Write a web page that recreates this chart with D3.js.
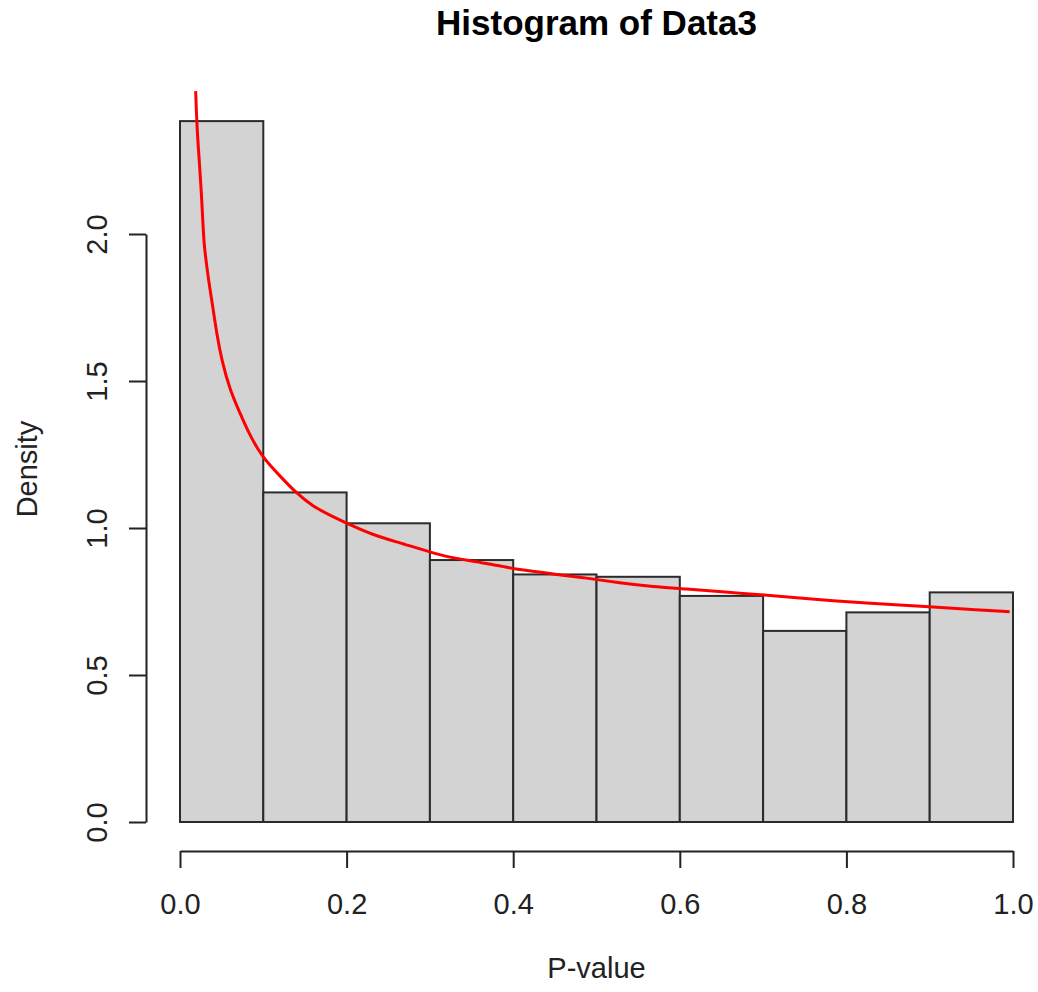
<!DOCTYPE html>
<html>
<head>
<meta charset="utf-8">
<script src="https://cdn.jsdelivr.net/npm/d3@7"></script>
<style>
  body { margin: 0; background: #fff; }
  svg { display: block; font-family: "Liberation Sans", Arial, sans-serif; }
</style>
</head>
<body>
<svg id="chart" width="1038" height="992"></svg>
<script>
// histogram bins (P-value breaks) and densities
const breaks = [0, 0.1, 0.2, 0.3, 0.4, 0.5, 0.6, 0.7, 0.8, 0.9, 1.0];
const densities = [2.384, 1.121, 1.016, 0.891, 0.842, 0.834, 0.769, 0.650, 0.713, 0.781];

// fitted density curve (red)
const curveX = [0.0188, 0.0204, 0.0228, 0.0252, 0.027, 0.0288, 0.0312, 0.0342, 0.040, 0.044,
  0.050, 0.060, 0.072, 0.0816, 0.098, 0.120, 0.138, 0.160, 0.180, 0.200, 0.232, 0.260,
  0.312, 0.328, 0.368, 0.408, 0.448, 0.488, 0.528, 0.568, 0.608, 0.648, 0.704, 0.744,
  0.784, 0.824, 0.864, 0.904, 0.944, 0.996];
const curveY = [2.486, 2.361, 2.262, 2.163, 2.065, 1.966, 1.912, 1.844, 1.741, 1.663,
  1.571, 1.469, 1.391, 1.328, 1.243, 1.177, 1.123, 1.072, 1.044, 1.016, 0.976, 0.953,
  0.908, 0.898, 0.880, 0.857, 0.844, 0.830, 0.813, 0.800, 0.793, 0.783, 0.772, 0.762,
  0.752, 0.745, 0.738, 0.731, 0.724, 0.715];

const xTicks = [0, 0.2, 0.4, 0.6, 0.8, 1.0];
const yTicks = [0, 0.5, 1.0, 1.5, 2.0];

const title = "Histogram of Data3";
const xLabel = "P-value";
const yLabel = "Density";

const svg = d3.select("#chart");

const x = d3.scaleLinear().domain([0, 1]).range([180, 1013]);
const y = d3.scaleLinear().domain([0, 2]).range([822, 234]);

const ink = "#222";

// bars
const bins = densities.map((d, i) => ({ x0: breaks[i], x1: breaks[i + 1], d: d }));
svg.append("g")
  .selectAll("rect")
  .data(bins)
  .enter().append("rect")
  .attr("x", (b) => x(b.x0))
  .attr("y", (b) => y(b.d))
  .attr("width", (b) => x(b.x1) - x(b.x0))
  .attr("height", (b) => y(0) - y(b.d))
  .style("fill", "#d3d3d3")
  .style("stroke", "#2b2b2b")
  .style("stroke-width", 2);

// density curve
const pts = curveX.map((v, i) => [v, curveY[i]]);
svg.append("path")
  .datum(pts)
  .attr("d", d3.line()
    .x((d) => x(d[0]))
    .y((d) => y(d[1]))
    .curve(d3.curveBasis))
  .style("fill", "none")
  .style("stroke", "#ff0000")
  .style("stroke-width", 3);

// x axis
const xAxis = svg.append("g")
  .attr("transform", "translate(0,851)")
  .call(d3.axisBottom(x).tickValues(xTicks).tickSize(17).tickSizeOuter(0)
    .tickFormat(d3.format(".1f")));
xAxis.select(".domain").attr("stroke", ink).attr("stroke-width", 2);
xAxis.selectAll(".tick line").attr("stroke", ink).attr("stroke-width", 2);
xAxis.selectAll(".tick text")
  .attr("y", 63).attr("dy", null)
  .attr("fill", ink)
  .style("font-size", "29px")
  .style("font-family", "'Liberation Sans', Arial, sans-serif");

// y axis
const yAxis = svg.append("g")
  .attr("transform", "translate(146,0)")
  .call(d3.axisLeft(y).tickValues(yTicks).tickSize(17).tickSizeOuter(0)
    .tickFormat(d3.format(".1f")));
yAxis.select(".domain").attr("stroke", ink).attr("stroke-width", 2);
yAxis.selectAll(".tick line").attr("stroke", ink).attr("stroke-width", 2);
yAxis.selectAll(".tick text")
  .attr("x", null).attr("dy", null)
  .attr("transform", "translate(-39,0) rotate(-90)")
  .attr("text-anchor", "middle")
  .attr("fill", ink)
  .style("font-size", "29px")
  .style("font-family", "'Liberation Sans', Arial, sans-serif");

// title and axis labels
svg.append("text")
  .attr("x", 596.5).attr("y", 35)
  .attr("text-anchor", "middle")
  .style("font-size", "35px")
  .style("font-weight", "bold")
  .style("fill", "#000")
  .text(title);

svg.append("text")
  .attr("x", 596.5).attr("y", 978)
  .attr("text-anchor", "middle")
  .style("font-size", "29px")
  .style("fill", ink)
  .text(xLabel);

svg.append("text")
  .attr("transform", "translate(37,469) rotate(-90)")
  .attr("text-anchor", "middle")
  .style("font-size", "29px")
  .style("fill", ink)
  .text(yLabel);
</script>
</body>
</html>
